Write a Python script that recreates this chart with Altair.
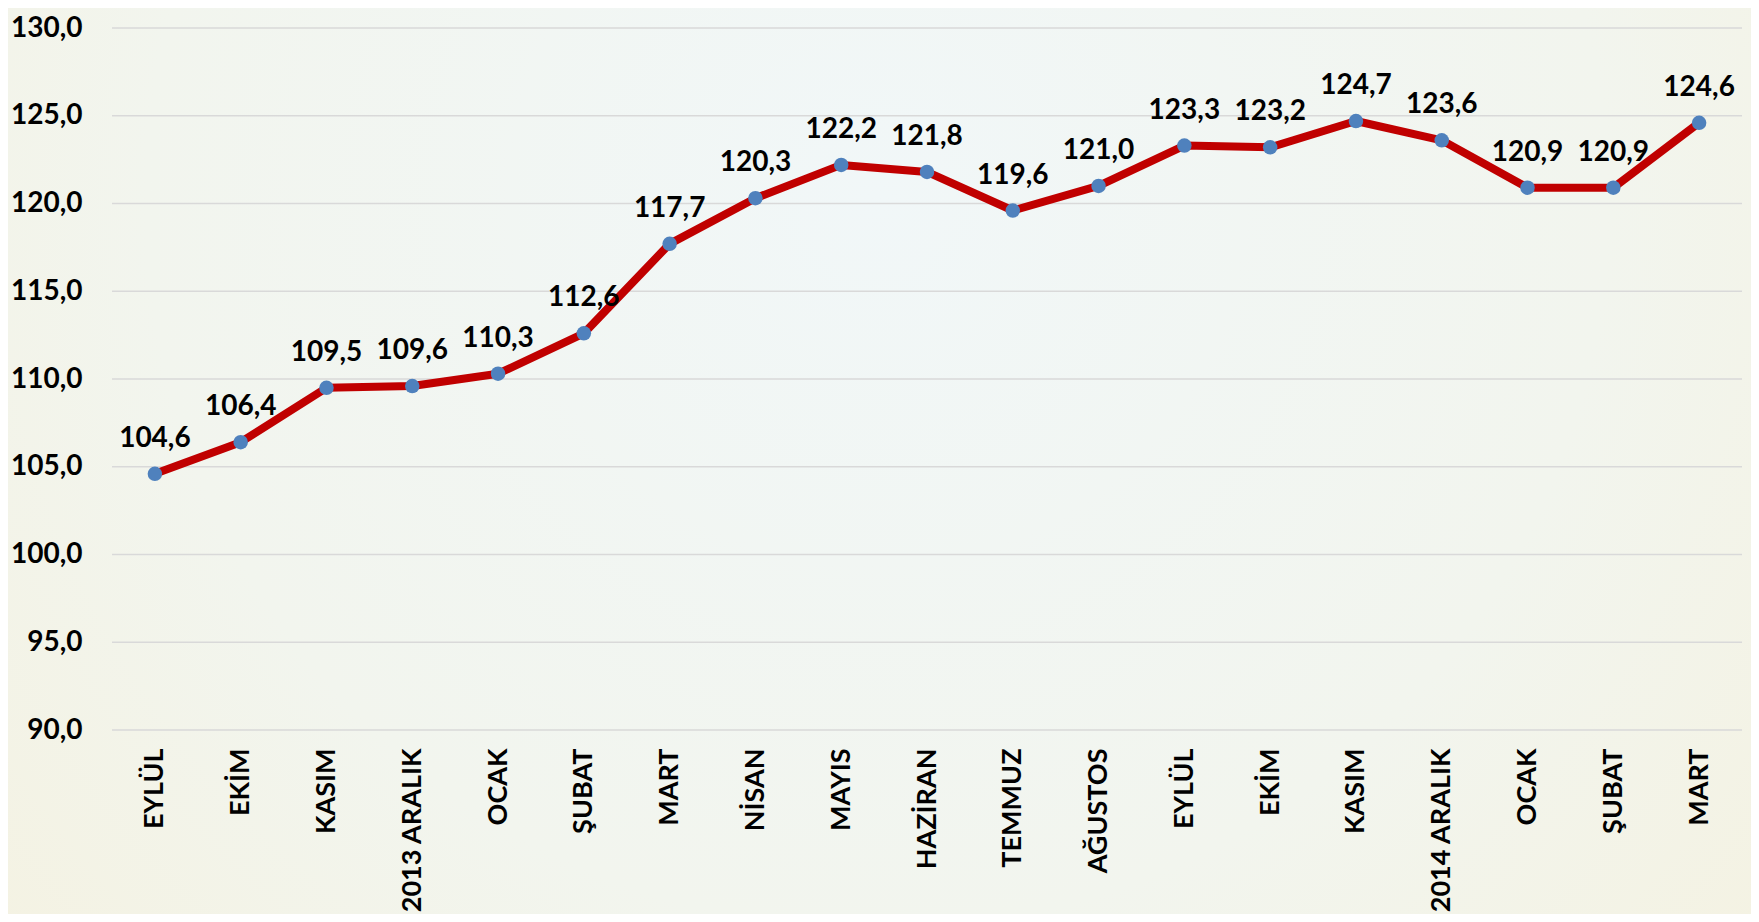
import altair as alt
import pandas as pd

months = ["EYLÜL", "EKİM", "KASIM", "2013 ARALIK", "OCAK", "ŞUBAT", "MART", "NİSAN",
          "MAYIS", "HAZİRAN", "TEMMUZ", "AĞUSTOS", "EYLÜL", "EKİM", "KASIM",
          "2014 ARALIK", "OCAK", "ŞUBAT", "MART"]
values = [104.6, 106.4, 109.5, 109.6, 110.3, 112.6, 117.7, 120.3, 122.2, 121.8,
          119.6, 121.0, 123.3, 123.2, 124.7, 123.6, 120.9, 120.9, 124.6]
y_ticks = [90, 95, 100, 105, 110, 115, 120, 125, 130]

df = pd.DataFrame({
    "idx": list(range(len(months))),
    "month": months,
    "value": values,
    "label": [f"{v:.1f}".replace(".", ",") for v in values],
})
grid_df = pd.DataFrame({"value": y_ticks})

label_arr = "[" + ",".join("'" + m + "'" for m in months) + "]"
FONT = "Lato"
W, H = 1630, 702

yscale = alt.Scale(domain=[90, 130], nice=False, zero=False)
yaxis = alt.Axis(values=y_ticks,
                 labelExpr="replace(format(datum.value, '.1f'), '.', ',')",
                 labelFont=FONT, labelFontSize=28, labelFontWeight="bold",
                 labelColor="#000000", labelPadding=30, ticks=False,
                 domain=False, grid=False, zindex=1)

x = alt.X("idx:O", sort=None, title=None,
          scale=alt.Scale(paddingInner=1, paddingOuter=0.5),
          axis=alt.Axis(labelExpr=f"{label_arr}[datum.value]", labelAngle=-90,
                        labelFont=FONT, labelFontSize=27, labelFontWeight="bold",
                        labelColor="#000000", labelPadding=18, ticks=False,
                        domain=False, grid=False, zindex=1))
y = alt.Y("value:Q", title=None, scale=yscale, axis=yaxis)

bg = alt.Chart(pd.DataFrame({"a": [0]})).mark_rect(
    fill={"gradient": "radial", "x1": 0.5, "y1": 0.35, "x2": 0.5, "y2": 0.35,
          "r1": 0, "r2": 0.75,
          "stops": [{"offset": 0, "color": "#f1f7f8"},
                    {"offset": 0.55, "color": "#f2f5ee"},
                    {"offset": 1, "color": "#f5f1de"}]}
).encode(x=alt.value(-120), x2=alt.value(W + 20), y=alt.value(-30), y2=alt.value(H + 200))

grid = alt.Chart(grid_df).mark_rule(color="#d9d9d9", strokeWidth=1.5).encode(
    y=y, x=alt.value(0), x2=alt.value(W))

base = alt.Chart(df).encode(x=x, y=y)

line = base.mark_line(color="#c00000", strokeWidth=8, strokeJoin="round")
points = base.mark_point(filled=True, color="#4f81bd", size=210, opacity=1)
labels = base.mark_text(font=FONT, fontSize=28, fontWeight="bold", color="#000000",
                        baseline="alphabetic", dy=-27).encode(text="label:N")

chart = (bg + grid + line + points + labels).properties(
    width=W, height=H,
    background="#f5f1de",
    padding={"left": 104, "top": 20, "right": 9, "bottom": 184},
    autosize=alt.AutoSizeParams(type="none"),
).configure_view(strokeWidth=0)

chart.save("out.html", embed_options={"renderer": "svg", "actions": False})
